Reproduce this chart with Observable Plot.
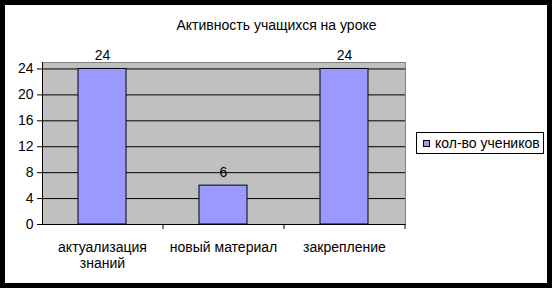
<!DOCTYPE html>
<html>
<head>
<meta charset="utf-8">
<script src="https://cdn.jsdelivr.net/npm/d3@7"></script>
<script src="https://cdn.jsdelivr.net/npm/@observablehq/plot@0.6"></script>
<style>
  html, body { margin: 0; padding: 0; background: #fff; }
  #chart { position: relative; width: 552px; height: 288px; overflow: hidden; font-family: "Liberation Sans", Arial, sans-serif; }
  #chart svg { position: absolute; left: 0; top: 0; }
  #border { position: absolute; left: 0; top: 0; width: 552px; height: 288px; box-sizing: border-box; border: 5px solid #000; pointer-events: none; }
  #legend { position: absolute; left: 416px; top: 132px; width: 128px; height: 22px; box-sizing: border-box; border: 1px solid #000; background: #fff; display: flex; align-items: center; font-size: 14px; color: #000; white-space: nowrap; }
  #legend .sw { width: 5px; height: 5px; border: 1px solid #000; background: #9999ff; margin-left: 6px; margin-right: 5px; }
</style>
</head>
<body>
<div id="chart"><div id="legend"></div><div id="border"></div></div>
<script>
const title = "Активность учащихся на уроке";
const seriesName = "кол-во учеников";
const categories = ["актуализация\nзнаний", "новый материал", "закрепление"];
const values = [24, 6, 24];
const yTicks = [0, 4, 8, 12, 16, 20, 24];

const data = categories.map((c, i) => ({cat: c, v: values[i]}));

const plot = Plot.plot({
  width: 552,
  height: 288,
  marginLeft: 42,
  marginRight: 147,
  marginTop: 62,
  marginBottom: 64,
  style: {background: "transparent", fontFamily: "Liberation Sans, Arial, sans-serif", fontSize: "14px", color: "#000", overflow: "visible"},
  x: {domain: categories, paddingInner: 0.6, paddingOuter: 0.3, label: null},
  y: {domain: [0, 25], label: null},
  marks: [
    Plot.frame({fill: "#c0c0c0", stroke: "#808080"}),
    Plot.gridY(yTicks, {stroke: "#000", strokeOpacity: 1}),
    Plot.barY(data, {x: "cat", y: "v", fill: "#9999ff", stroke: "#000", strokeWidth: 1}),
    Plot.ruleY([0], {stroke: "#000"}),
    Plot.frame({anchor: "left", stroke: "#000"}),
    Plot.axisY({ticks: yTicks, tickSize: 5, tickPadding: 4, fontSize: 14, stroke: "#000", label: null}),
    Plot.axisX({tickSize: 0, tickPadding: 16, fontSize: 14, lineHeight: 1.15, label: null}),
    Plot.axisX({tickSize: 5, dx: 60.5, tickFormat: () => "", label: null, stroke: "#000"}),
    Plot.text(data, {x: "cat", y: "v", text: d => String(d.v), dy: -8.5, lineAnchor: "bottom", fontSize: 14, fill: "#000"}),
    Plot.text([title], {frameAnchor: "top", dx: 52.5, dy: -32.5, lineAnchor: "bottom", fontSize: 14, fill: "#000"})
  ]
});
document.getElementById("chart").prepend(plot);
const lg = document.getElementById("legend");
lg.innerHTML = '<span class="sw"></span><span></span>';
lg.lastChild.textContent = seriesName;
</script>
</body>
</html>
